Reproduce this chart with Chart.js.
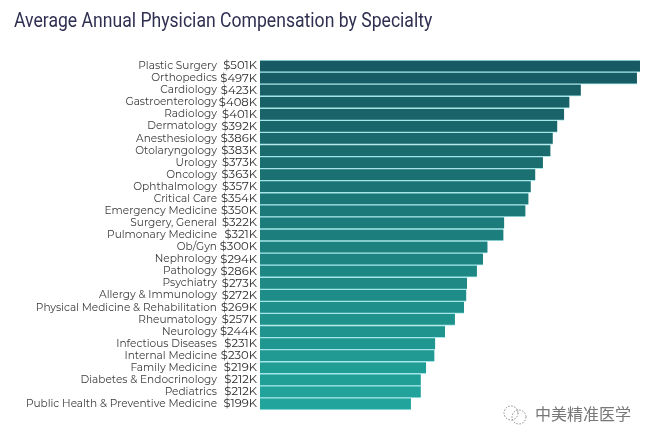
<!DOCTYPE html>
<html><head><meta charset="utf-8">
<style>html,body{margin:0;padding:0;background:#fff;width:652px;height:442px;overflow:hidden}
#w{position:relative;width:652px;height:442px}
#m{position:absolute;left:535px;top:404px;font:16px "Noto Sans CJK SC";color:#777;line-height:18px}
#i{position:absolute;left:502px;top:404px}</style>
<script src="https://cdn.jsdelivr.net/npm/chart.js@4"></script></head>
<body><div id="w"><canvas id="c" width="652" height="442"></canvas>
<svg id="i" width="26" height="22" fill="none" stroke="#888" stroke-width="1" stroke-dasharray="1.5 1.5"><circle cx="9" cy="9" r="7"/><circle cx="17" cy="13" r="7"/></svg>
<div id="m">中美精准医学</div></div>
<script>
const titleText = "Average Annual Physician Compensation by Specialty";
const specialties = ["Plastic Surgery","Orthopedics","Cardiology","Gastroenterology","Radiology","Dermatology","Anesthesiology","Otolaryngology","Urology","Oncology","Ophthalmology","Critical Care","Emergency Medicine","Surgery, General","Pulmonary Medicine","Ob/Gyn","Nephrology","Pathology","Psychiatry","Allergy & Immunology","Physical Medicine & Rehabilitation","Rheumatology","Neurology","Infectious Diseases","Internal Medicine","Family Medicine","Diabetes & Endocrinology","Pediatrics","Public Health & Preventive Medicine"];
const compensation = [501,497,423,408,401,392,386,383,373,363,357,354,350,322,321,300,294,286,273,272,269,257,244,231,230,219,212,212,199];
const barColors = ["#175a63","#175c64","#185f66","#186167","#196369","#19666a","#1a696c","#1a6b6e","#1a6e70","#1b7072","#1b7375","#1b7677","#1c7979","#1c7b7b","#1c7e7d","#1d817f","#1d8481","#1d8783","#1e8985","#1e8c88","#1e8f8a","#1f928c","#1f948e","#1f9790","#209a93","#209d95","#209f97","#21a29a","#21a49c"];
const valueLabels = compensation.map(v => "$" + v + "K");
const nameFont = {family:"Montserrat, Lato, 'Open Sans', sans-serif", size:10.55};
const valueFont = {family:"Montserrat, Lato, 'Open Sans', sans-serif", size:11.6};
function fixedWidth(w){return s=>{s.width=w;};}
const condensedTitle = {
  id:"condensedTitle",
  afterDraw(chart){
    const ctx = chart.ctx;
    ctx.save();
    ctx.translate(14,22);
    ctx.scale(0.88,1);
    ctx.font = "20px Roboto, sans-serif";
    ctx.fillStyle = "#2f2f52";
    ctx.textBaseline = "middle";
    ctx.textAlign = "left";
    ctx.fillText(titleText,0,0);
    ctx.restore();
  }
};
new Chart(document.getElementById("c"),{
  type:"bar",
  plugins:[condensedTitle],
  data:{labels:valueLabels,datasets:[{data:compensation,backgroundColor:barColors,borderColor:"#a6e6e8",borderWidth:{top:1,bottom:1},categoryPercentage:1,barPercentage:1}]},
  options:{
    indexAxis:"y",responsive:false,animation:false,
    layout:{padding:{left:14,right:12,top:60,bottom:32}},
    plugins:{legend:{display:false},tooltip:{enabled:false},title:{display:false}},
    scales:{
      x:{display:false,min:0,max:501},
      y:{position:"left",weight:1,grid:{display:false,tickLength:0},border:{display:false},
        ticks:{color:"#2b2b2b",font:valueFont,padding:3,autoSkip:false},afterFit:fixedWidth(43)},
      names:{type:"category",labels:specialties,position:"left",weight:2,grid:{display:false,tickLength:0},border:{display:false},
        ticks:{color:"#3c3c3c",font:nameFont,padding:0,autoSkip:false},afterFit:fixedWidth(203)}
    }
  }
});
</script></body></html>
